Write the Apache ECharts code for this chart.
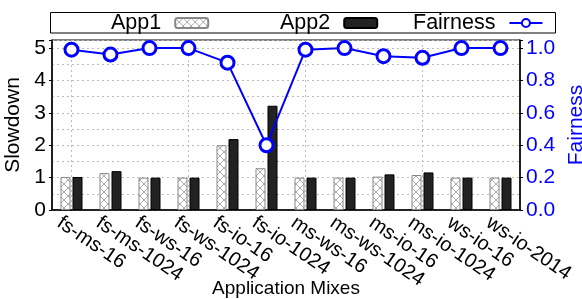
<!DOCTYPE html>
<html><head><meta charset="utf-8">
<script src="https://cdn.jsdelivr.net/npm/echarts@6/dist/echarts.min.js"></script>
<style>html,body{margin:0;padding:0;background:#fff}#c{width:582px;height:299px}</style>
</head><body><div id="c"></div>
<script>
const categories = ['fs-ms-16','fs-ms-1024','fs-ws-16','fs-ws-1024','fs-io-16','fs-io-1024','ms-ws-16','ms-ws-1024','ms-io-16','ms-io-1024','ws-io-16','ws-io-2014'];
const app1 = [1.02, 1.14, 1.0, 1.0, 2.0, 1.29, 1.0, 1.0, 1.03, 1.08, 1.0, 1.0];
const app2 = [1.02, 1.2, 1.0, 1.0, 2.19, 3.22, 1.0, 1.0, 1.1, 1.16, 1.0, 1.0];
const fairness = [0.99, 0.96, 1.0, 1.0, 0.91, 0.40, 0.99, 1.0, 0.95, 0.94, 1.0, 1.0];
const slowTicks = ['0','1','2','3','4','5'];
const fairTicks = ['0.0','0.2','0.4','0.6','0.8','1.0'];

function hatch(){
  const c = document.createElement('canvas');
  c.width = 8; c.height = 8;
  const g = c.getContext('2d');
  g.fillStyle = '#fff'; g.fillRect(0,0,8,8);
  g.strokeStyle = '#aaa'; g.lineWidth = 1;
  g.beginPath();
  g.moveTo(0,0); g.lineTo(8,8);
  g.moveTo(8,0); g.lineTo(0,8);
  g.stroke();
  return c;
}
const font = 'Liberation Sans';
const legendBase = {
  top:12, padding:0, align:'right', itemWidth:33, itemHeight:10,
  textStyle:{fontSize:21.5, color:'#000', fontFamily:font, padding:[0,9,0,0]}
};
const dash = {color:'#bbb', type:[2,3], width:1};
const chart = echarts.init(document.getElementById('c'), null, {renderer:'canvas'});
chart.setOption({
  animation:false,
  textStyle:{fontFamily:font},
  graphic:[{type:'rect', shape:{x:50.5, y:12.5, width:505, height:20.5}, style:{fill:'none', stroke:'#000', lineWidth:1}, z:100}],
  legend:[
    Object.assign({}, legendBase, {left:111, data:['App1']}),
    Object.assign({}, legendBase, {left:280, data:['App2']}),
    Object.assign({}, legendBase, {left:413, data:['Fairness']})
  ],
  grid:[
    {left:52, right:62, top:40, bottom:89, show:true, borderColor:'#000', borderWidth:1, containLabel:false, outerBoundsMode:'none'},
    {left:59, right:55, top:40, bottom:89, show:false, containLabel:false, outerBoundsMode:'none'}
  ],
  xAxis:[{
    type:'category', data:categories, gridIndex:0,
    name:'Application Mixes', nameLocation:'middle', nameGap:69,
    nameTextStyle:{fontSize:19, color:'#000', fontFamily:font},
    axisLine:{lineStyle:{color:'#000', width:1.5}},
    axisTick:{show:false},
    axisLabel:{show:false},
    splitLine:{show:true, alignWithLabel:true, lineStyle:dash}
  },{
    type:'value', gridIndex:1, min:0, max:categories.length, interval:1, position:'bottom',
    axisLine:{show:false}, axisTick:{show:false}, splitLine:{show:false},
    axisLabel:{rotate:-34, fontSize:20, color:'#000', fontFamily:font, margin:11,
      showMinLabel:true, showMaxLabel:true,
      formatter:v=>{const i=Math.round(v); return i<categories.length?categories[i]:'';}}
  }],
  yAxis:[{
    type:'value', gridIndex:0, min:0, max:5.25, interval:1,
    name:'Slowdown', nameLocation:'middle', nameGap:18,
    nameTextStyle:{fontSize:21, color:'#000', fontFamily:font},
    axisLine:{show:true, lineStyle:{color:'#000', width:1.5}},
    axisTick:{show:true, length:3, lineStyle:{color:'#000'}},
    axisLabel:{fontSize:21, color:'#000', fontFamily:font, margin:6,
      formatter:v=>{const i=Math.round(v); return (Math.abs(v-i)<1e-6 && i<slowTicks.length)?slowTicks[i]:'';}},
    splitLine:{show:true, lineStyle:dash},
    minorTick:{show:false, splitNumber:2},
    minorSplitLine:{show:true, lineStyle:dash}
  },{
    type:'value', gridIndex:0, min:0, max:1.05, interval:0.2,
    name:'Fairness', nameLocation:'middle', nameGap:41, nameRotate:90,
    nameTextStyle:{fontSize:21, color:'#0000ff', fontFamily:font},
    axisLine:{show:true, lineStyle:{color:'#000', width:1.5}},
    axisTick:{show:true, length:3, lineStyle:{color:'#000'}},
    axisLabel:{fontSize:21, color:'#0000ff', fontFamily:font, margin:6,
      formatter:v=>{const i=Math.round(v*5); return (Math.abs(v*5-i)<1e-6 && i<fairTicks.length)?fairTicks[i]:'';}},
    splitLine:{show:false}
  },{
    type:'value', gridIndex:1, show:false, min:0, max:1
  }],
  series:[{
    name:'App1', type:'bar', data:app1, barWidth:10, barGap:'20%',
    itemStyle:{color:{image:hatch(), repeat:'repeat'}, borderColor:'#888', borderWidth:1}
  },{
    name:'App2', type:'bar', data:app2, barWidth:10,
    itemStyle:{color:'#222', borderColor:'#000', borderWidth:1}
  },{
    name:'Fairness', type:'line', yAxisIndex:1, data:fairness,
    lineStyle:{color:'#0000ff', width:2}, itemStyle:{color:'#fff', borderColor:'#0000ff', borderWidth:3},
    symbol:'circle', symbolSize:13, z:5
  }]
});
</script></body></html>
